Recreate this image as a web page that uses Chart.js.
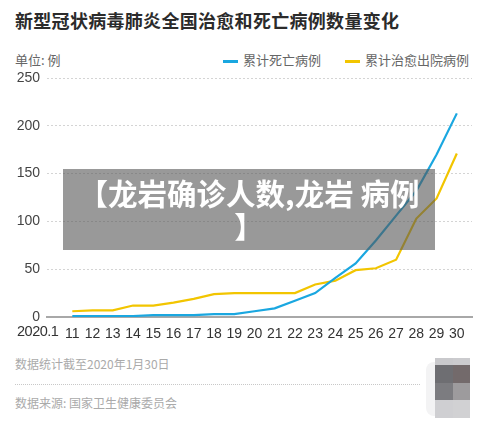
<!DOCTYPE html>
<html>
<head>
<meta charset="utf-8">
<script src="https://cdn.jsdelivr.net/npm/chart.js@4"></script>
<style>
  html,body{margin:0;padding:0;background:#fff;width:500px;height:421px;overflow:hidden;}
  body{position:relative;font-family:"Noto Sans CJK SC","Noto Sans",sans-serif;}
  .abs{position:absolute;white-space:nowrap;}
  #title{left:15px;top:7px;font-size:18px;font-weight:bold;color:#2b2b2b;letter-spacing:0.3px;}
  #unit{left:15px;top:50px;font-size:13px;color:#666;}
  .leg{top:50px;font-size:13px;color:#666;}
  .sw{position:absolute;width:15px;height:3px;top:10px;}
  #chartBox{position:absolute;left:0;top:48px;width:500px;height:300px;}
  #first{left:17px;top:323px;font-family:"Liberation Sans",Arial,sans-serif;font-size:14.5px;color:#333;letter-spacing:-0.5px;}
  .foot{left:15px;font-size:12px;color:#aaa;}
  #sep{position:absolute;left:15px;top:384px;width:405px;border-top:1px dotted #c8c8c8;}
  #overlay{position:absolute;left:63px;top:169px;width:372px;height:81px;background:rgba(85,85,85,0.6);color:#fff;font-weight:bold;font-size:29.5px;line-height:33px;text-align:center;padding-top:7px;box-sizing:border-box;font-family:"Noto Sans CJK SC",sans-serif;}
  .mz{position:absolute;}
</style>
</head>
<body>
<div id="title" class="abs">新型冠状病毒肺炎全国治愈和死亡病例数量变化</div>
<div id="unit" class="abs">单位: 例</div>
<div class="abs leg" style="left:223px;"><span class="sw" style="left:0;background:#1aa7e0"></span><span style="margin-left:20px">累计死亡病例</span></div>
<div class="abs leg" style="left:345px;"><span class="sw" style="left:0;background:#f2c500"></span><span style="margin-left:20px">累计治愈出院病例</span></div>
<div id="chartBox"><canvas id="c"></canvas></div>
<div id="first" class="abs">2020.1</div>
<div class="abs foot" style="top:355px;">数据统计截至2020年1月30日</div>
<div id="sep"></div>
<div class="abs foot" style="top:394px;">数据来源: 国家卫生健康委员会</div>
<div id="overlay">【龙岩确诊人数,龙岩 病例<br>】</div>
<div class="mz" style="left:426px;top:362px;width:12px;height:54px;background:#f3f3f4;border-radius:8px 0 0 8px;"></div>
<div class="mz" style="left:435px;top:358px;width:18px;height:7px;background:#c9c9cc"></div>
<div class="mz" style="left:453px;top:358px;width:17px;height:7px;background:#cbcbce"></div>
<div class="mz" style="left:435px;top:365px;width:18px;height:18px;background:#6e6e72"></div>
<div class="mz" style="left:453px;top:365px;width:17px;height:18px;background:#736a6b"></div>
<div class="mz" style="left:435px;top:383px;width:18px;height:17px;background:#7c7c80"></div>
<div class="mz" style="left:453px;top:383px;width:17px;height:17px;background:#9d9b9d"></div>
<div class="mz" style="left:435px;top:400px;width:18px;height:18px;background:#cfcfd2"></div>
<div class="mz" style="left:453px;top:400px;width:17px;height:18px;background:#d1d1d3"></div>
<script>
const days = [11,12,13,14,15,16,17,18,19,20,21,22,23,24,25,26,27,28,29,30];
const deaths = [1,1,1,1,2,2,2,3,3,6,9,17,25,41,56,80,106,132,170,213];
const cured = [6,7,7,12,12,15,19,24,25,25,25,25,34,38,49,51,60,103,124,171];
const yTicks = [0,50,100,150,200,250];
const seriesNames = ['累计死亡病例','累计治愈出院病例'];

const toXY = arr => days.map((d,i)=>({x:d,y:arr[i]}));
const tickFont = {family: '"Liberation Sans", Arial, sans-serif', size: 14};

new Chart(document.getElementById('c'), {
  type: 'line',
  data: {
    datasets: [
      {label: seriesNames[0], data: toXY(deaths), borderColor:'#1aa7e0', backgroundColor:'#1aa7e0', borderWidth:2.2, pointRadius:0, tension:0},
      {label: seriesNames[1], data: toXY(cured), borderColor:'#f2c500', backgroundColor:'#f2c500', borderWidth:2.2, pointRadius:0, tension:0}
    ]
  },
  options: {
    responsive: true,
    maintainAspectRatio: false,
    animation: false,
    layout: {padding: {top: 30, right: 28, left: 0, bottom: 0}},
    plugins: {legend: {display:false}, tooltip: {enabled:false}},
    scales: {
      x: {
        type: 'linear',
        min: 9.75, max: 30.75,
        afterBuildTicks: s => { s.ticks = days.map(v => ({value: v})); },
        afterFit: s => { s.height = 31; },
        grid: {display: false},
        border: {display: true, color: '#a8a8a8', width: 2},
        ticks: {autoSkip:false, maxRotation:0, padding: 1, color:'#333', font: tickFont,
          callback: v => String(v)}
      },
      y: {
        min: 0, max: 250,
        afterBuildTicks: s => { s.ticks = yTicks.map(v => ({value: v})); },
        afterFit: s => { s.width = 47; },
        grid: {color: '#d4d4d4', lineWidth: 1, drawTicks: false},
        border: {display: false, dash: [2,2]},
        ticks: {padding: 7, color:'#444', font: tickFont}
      }
    }
  }
});
</script>
</body>
</html>
